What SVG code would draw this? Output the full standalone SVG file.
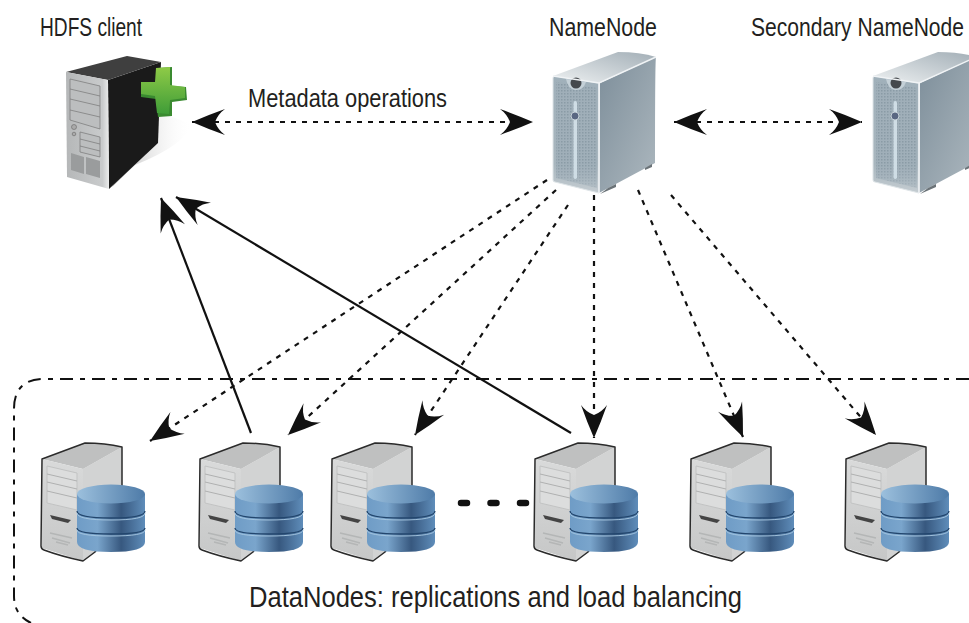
<svg xmlns="http://www.w3.org/2000/svg" width="969" height="623" viewBox="0 0 969 623">
<style>
.t{font-family:"Liberation Sans",Arial,sans-serif;fill:#231f20;font-size:26px}
.dash{fill:none;stroke:#111;stroke-width:2.2;stroke-dasharray:5 6}
.solid{fill:none;stroke:#111;stroke-width:2.2}
.box{fill:none;stroke:#111;stroke-width:2;stroke-dasharray:13 7 5 7}
</style>
<defs>
<marker id="ah" markerUnits="userSpaceOnUse" markerWidth="36" markerHeight="30" refX="33" refY="13" orient="auto-start-reverse" overflow="visible">
<path d="M0,0Q17,6 33,13Q17,20 0,26Q7,21 10,13Q7,5 0,0Z" fill="#111"/>
</marker>
<linearGradient id="sf" x1="0" y1="0" x2="0" y2="1"><stop offset="0" stop-color="#a0b0ba"/><stop offset=".75" stop-color="#a8b6be"/><stop offset="1" stop-color="#c4ccd1"/></linearGradient>
<linearGradient id="sr" x1="0" y1="0" x2="1" y2="1"><stop offset="0" stop-color="#7d8e9a"/><stop offset="1" stop-color="#adb8bf"/></linearGradient>
<linearGradient id="st" x1="0" y1="1" x2="1" y2="0"><stop offset="0" stop-color="#eef1f2"/><stop offset="1" stop-color="#a2aeb6"/></linearGradient>
<pattern id="mesh" width="3" height="3" patternUnits="userSpaceOnUse"><rect width="3" height="3" fill="#a0afb9"/><rect width="1.5" height="1.5" fill="#8a9ba6"/></pattern>
<linearGradient id="mf" x1="0" y1="0" x2="0" y2="1"><stop offset="0" stop-color="#fff"/><stop offset=".75" stop-color="#fff"/><stop offset="1" stop-color="#fff" stop-opacity=".25"/></linearGradient>
<mask id="mm" maskContentUnits="userSpaceOnUse"><rect x="550" y="76" width="52" height="118" fill="url(#mf)"/></mask>
<linearGradient id="cyl" x1="0" y1="0" x2="1" y2="0"><stop offset="0" stop-color="#6f9cc6"/><stop offset=".3" stop-color="#7aa5cc"/><stop offset=".65" stop-color="#37587f"/><stop offset="1" stop-color="#5f8dba"/></linearGradient>
<linearGradient id="cyt" x1="0" y1="0" x2="1" y2="0"><stop offset="0" stop-color="#9cc0dd"/><stop offset="1" stop-color="#4e7ba8"/></linearGradient>
<linearGradient id="grn" x1="0" y1="0" x2="0" y2="1"><stop offset="0" stop-color="#8fcb47"/><stop offset="1" stop-color="#3f9c38"/></linearGradient>
<linearGradient id="shd" x1="0" y1="0" x2="1" y2="0"><stop offset="0" stop-color="#999"/><stop offset="1" stop-color="#fff" stop-opacity="0"/></linearGradient>
<linearGradient id="dnf" x1="0" y1="0" x2="0" y2="1"><stop offset="0" stop-color="#d9dada"/><stop offset="1" stop-color="#c6c7c7"/></linearGradient>
<linearGradient id="hf" x1="0" y1="0" x2="1" y2="0"><stop offset="0" stop-color="#b5b7b8"/><stop offset=".85" stop-color="#c9cbcc"/><stop offset="1" stop-color="#eceded"/></linearGradient>
<g id="srv">
<path d="M600,83L656,57Q655,60 655,163L599,193Z" fill="url(#sr)"/>
<path d="M553,76L618,52Q640,52 656,57L599,83Z" fill="url(#st)"/>
<path d="M553,78Q553,76 555,76L599,83V193L555,182Q553,182 553,180Z" fill="url(#sf)" stroke="#dfe5e8"/>
<path d="M556,82L597,88V188L556,178Z" fill="url(#mesh)" mask="url(#mm)"/>
<path d="M566,79L586,82Q583,91 575,90Q568,89 566,79Z" fill="#c4d0d7"/>
<circle cx="576" cy="83" r="5.5" fill="#45494d"/>
<rect x="573.5" y="101" width="3.5" height="78" rx="1.7" fill="#cfdde5"/>
<circle cx="575" cy="116" r="4" fill="#5a6782" stroke="#c8d2d8"/>
<path d="M553,76L599,83L656,57M599,83V193" fill="none" stroke="#f0f3f5" stroke-width="1.4"/>
<path d="M608,188L616,184V187L600,194ZM645,168L652,164V167L645,170Z" fill="#6b7378"/>
</g>
<g id="dn">
<path d="M83,469L122,447V510L95,552L83,561Z" fill="#d2d3d3"/>
<path d="M42,459L85,443Q105,443 122,447L83,469Z" fill="#bfc0c0"/>
<path d="M42,459L83,469V561L42,548Z" fill="url(#dnf)"/>
<path d="M42,459L85,443Q105,443 122,447V510L95,552L83,561Q60,556 44,550Q41,549 41,546Z" fill="none" stroke="#2b2b2b" stroke-width="1.5" stroke-linejoin="round"/>
<path d="M47,466L77,473V510L47,503Z" fill="#dcdddd" stroke="#c2c3c3"/>
<path d="M47,474L77,481M47,482L77,489M47,491L77,498" stroke="#b0b1b1" fill="none"/>
<path d="M50,515L71,520L68,523L52,519Z" fill="#444"/>
<path d="M50,533L72,538M52,538L70,543M56,542L68,545" stroke="#b4b6b6" stroke-width="1.5" fill="none"/>
<path d="M77,494V542Q77,552 111,552T145,542V494Z" fill="url(#cyl)"/>
<path d="M77,511Q77,518 111,518T145,511M77,528Q77,534 111,534T145,528" fill="none" stroke="#23466d" stroke-width="1.3"/>
<path d="M77,513Q77,520 111,520T145,513M77,530Q77,536 111,536T145,530" fill="none" stroke="#a8c8e2" stroke-width=".9"/>
<ellipse cx="111" cy="494" rx="34" ry="9.5" fill="url(#cyt)"/>
</g>
</defs>
<g id="hdfs-client">
<path d="M112,187L158,112L192,124Q185,145 135,165Z" fill="url(#shd)" opacity=".8"/>
<path d="M108,80L161,62L158,143L109,189Z" fill="#1a1a1a"/>
<path d="M66,72L127,56L161,62L108,80Z" fill="#3f3f3f"/>
<path d="M66,72L108,80L109,189L67,177Z" fill="url(#hf)"/>
<path d="M70,79L100,86V129L70,120ZM70,89L100,96M70,99L100,106M70,110L100,117M80,132L100,137V157L80,152ZM80,139L100,144M80,146L100,151" fill="#bcbebf" stroke="#777" stroke-width=".7"/>
<circle cx="74" cy="127" r="2.5" fill="#aaa" stroke="#666" stroke-width=".6"/>
<circle cx="74" cy="134" r="1.8" fill="#aaa" stroke="#666" stroke-width=".6"/>
<path d="M71,153L84,157V174L71,170ZM86,157L100,161V178L86,174Z" fill="#9a9c9d"/>
<path d="M158,68L172,67L172,86L186,87L187,100L172,102L172,116L158,117L156,99L141,97V82L156,82Z" fill="#3a8a30"/>
<path d="M156,68L170,67L170,85L185,87L185,98L170,100L169,114L157,113L155,96L141,94V82L155,82Z" fill="url(#grn)"/>
</g>
<g id="namenode"><use href="#srv"/></g>
<g id="secondary-namenode"><use href="#srv" x="320"/></g>
<g id="datanode-1"><use href="#dn"/></g>
<g id="datanode-2"><use href="#dn" x="158"/></g>
<g id="datanode-3"><use href="#dn" x="290"/></g>
<g id="datanode-4"><use href="#dn" x="493"/></g>
<g id="datanode-5"><use href="#dn" x="649"/></g>
<g id="datanode-6"><use href="#dn" x="804"/></g>
<g id="connectors">
<path class="box" d="M969,379H44Q14,379 14,409V596Q14,615 31,623"/>
<path class="dash" d="M192,122H533" marker-start="url(#ah)" marker-end="url(#ah)"/>
<path class="dash" d="M674,122H862" marker-start="url(#ah)" marker-end="url(#ah)"/>
<path class="dash" d="M547,180L150,441" marker-end="url(#ah)"/>
<path class="dash" d="M556,190L288,435" marker-end="url(#ah)"/>
<path class="dash" d="M568,205L415,435" marker-end="url(#ah)"/>
<path class="dash" d="M594,195V438" marker-end="url(#ah)"/>
<path class="dash" d="M638,190L743,437" marker-end="url(#ah)"/>
<path class="dash" d="M671,195L876,435" marker-end="url(#ah)"/>
<path class="solid" d="M251,433L161,198" marker-end="url(#ah)"/>
<path class="solid" d="M571,433L176,197" marker-end="url(#ah)"/>
<path d="M461,503H528" fill="none" stroke="#111" stroke-width="6.5" stroke-linecap="round" stroke-dasharray="6 23.5"/>
</g>
<text class="t" transform="translate(40,36) scale(.83,1)" textLength="123" lengthAdjust="spacingAndGlyphs">HDFS client</text>
<text class="t" transform="translate(549,36) scale(.83,1)" textLength="130" lengthAdjust="spacingAndGlyphs">NameNode</text>
<text class="t" transform="translate(751,36) scale(.83,1)" textLength="256.6" lengthAdjust="spacingAndGlyphs">Secondary NameNode</text>
<text class="t" transform="translate(248,107) scale(.83,1)" textLength="239.8" lengthAdjust="spacingAndGlyphs">Metadata operations</text>
<text class="t" style="font-size:30px" transform="translate(249,607) scale(.83,1)" textLength="594" lengthAdjust="spacingAndGlyphs">DataNodes: replications and load balancing</text>
</svg>
